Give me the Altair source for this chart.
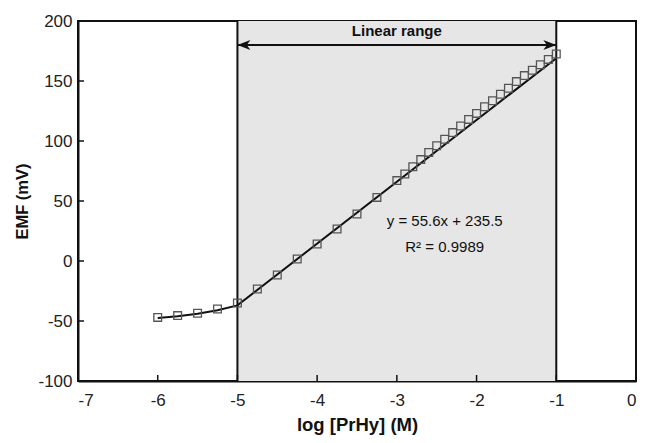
import altair as alt
import pandas as pd

# ---- data ----
pt_x = [-6.0, -5.75, -5.5, -5.25, -5.0, -4.75, -4.5, -4.25, -4.0, -3.75, -3.5, -3.25,
        -3.0, -2.9, -2.8, -2.7, -2.6, -2.5, -2.4, -2.3, -2.2, -2.1, -2.0, -1.9, -1.8,
        -1.7, -1.6, -1.5, -1.4, -1.3, -1.2, -1.1, -1.0]
pt_y = [-47, -45.5, -43.5, -40, -35, -23.3, -11.7, 1.7, 14.2, 26.7, 39.2, 53,
        67, 72.5, 78.5, 84.5, 90.5, 96, 101.5, 107, 112.5, 118, 123, 128.5, 133.5,
        139, 144, 149.5, 154.5, 159, 163.5, 168, 172.5]

fit_x = [-6.0, -5.75, -5.5, -5.25, -5.0, -1.0]
fit_y = [-47.5, -46, -44, -41, -37, 169]

range_lo, range_hi = -5.0, -1.0
arrow_y = 180
x_ticks = [-7, -6, -5, -4, -3, -2, -1, 0]
y_ticks = [-100, -50, 0, 50, 100, 150, 200]

labels = ["Linear range", "y = 55.6x + 235.5", "R\u00b2 = 0.9989"]
label_x = [-3.0, -2.40, -2.40]
label_y = [191.5, 33.3, 12.0]

W, H = 558, 360
FONT = "Liberation Sans"

xs = alt.Scale(domain=[-7, 0], nice=False, zero=False)
ys = alt.Scale(domain=[-100, 200], nice=False, zero=False)
xaxis = alt.Axis(values=x_ticks, title="log [PrHy] (M)", labelPadding=11,
                 titlePadding=7, labelExpr="'' + datum.value")
yaxis = alt.Axis(values=y_ticks, title="EMF (mV)", labelPadding=6,
                 titlePadding=7, labelExpr="'' + datum.value")


def X(f):
    return alt.X(f, type="quantitative", scale=xs, axis=xaxis)


def Y(f):
    return alt.Y(f, type="quantitative", scale=ys, axis=yaxis)


pts = pd.DataFrame({"x": pt_x, "y": pt_y})
fit = pd.DataFrame({"x": fit_x, "y": fit_y})
band = pd.DataFrame({"x": [range_lo], "x2": [range_hi]})
bounds = pd.DataFrame({"x": [range_lo, range_hi]})
xt = pd.DataFrame({"x": x_ticks})
yt = pd.DataFrame({"y": y_ticks})
arrow = pd.DataFrame({"x": [range_lo], "x2": [range_hi], "y": [arrow_y]})
heads = pd.DataFrame({"x": [range_lo, range_hi], "y": [arrow_y, arrow_y],
                      "dir": ["L", "R"]})
txt = pd.DataFrame({"t": labels, "x": label_x, "y": label_y,
                    "w": ["bold", "normal", "normal"]})

rect = alt.Chart(band).mark_rect(color="#e6e6e6").encode(
    x=X("x"), x2="x2", y=alt.value(0), y2=alt.value(H))

vlines = alt.Chart(bounds).mark_rule(color="#111", strokeWidth=2).encode(
    x=X("x"), y=alt.value(0), y2=alt.value(H))

xtick = alt.Chart(xt).mark_rule(color="#111", strokeWidth=1.5).encode(
    x=X("x"), y=alt.value(H), y2=alt.value(H - 6))
ytick = alt.Chart(yt).mark_rule(color="#111", strokeWidth=1.5).encode(
    y=Y("y"), x=alt.value(0), x2=alt.value(6))

line = alt.Chart(fit).mark_line(color="#111", strokeWidth=2).encode(
    x=X("x"), y=Y("y"), order="x:Q")

points = alt.Chart(pts).mark_point(shape="square", size=60, filled=False,
                                   color="#555", strokeWidth=1.3, opacity=1).encode(
    x=X("x"), y=Y("y"))

arr = alt.Chart(arrow).mark_rule(color="#111", strokeWidth=2).encode(
    x=X("x"), x2="x2", y=Y("y"))

left_head = "M 0 0 L 1 -0.38 L 0.72 0 L 1 0.38 Z"
right_head = "M 0 0 L -1 -0.38 L -0.72 0 L -1 0.38 Z"
hl = alt.Chart(heads).transform_filter(alt.datum.dir == "L").mark_point(
    shape=left_head, size=676, filled=True, color="#111", opacity=1).encode(
    x=X("x"), y=Y("y"))
hr = alt.Chart(heads).transform_filter(alt.datum.dir == "R").mark_point(
    shape=right_head, size=676, filled=True, color="#111", opacity=1).encode(
    x=X("x"), y=Y("y"))

t_bold = alt.Chart(txt).transform_filter(alt.datum.w == "bold").mark_text(
    font=FONT, fontSize=15, fontWeight="bold", color="#111", baseline="middle").encode(
    x=X("x"), y=Y("y"), text="t:N")
t_norm = alt.Chart(txt).transform_filter(alt.datum.w == "normal").mark_text(
    font=FONT, fontSize=15, color="#111", baseline="middle").encode(
    x=X("x"), y=Y("y"), text="t:N")

chart = alt.layer(rect, vlines, xtick, ytick, line, points, arr, hl, hr,
                  t_bold, t_norm).properties(
    width=W, height=H,
    autosize=alt.AutoSizeParams(type="none"),
    padding={"left": 70, "top": 13, "right": 5, "bottom": 54},
    background="white",
).configure_view(stroke="#111", strokeWidth=2).configure_axis(
    grid=False, tickSize=0, domainColor="#111", domainWidth=2,
    labelFont=FONT, labelFontSize=17, labelColor="#222",
    titleFont=FONT, titleFontWeight="bold", titleColor="#111",
).configure_axisX(titleFontSize=18.5).configure_axisY(titleFontSize=16.5)

chart.save("out.html", embed_options={"renderer": "svg", "actions": False})
